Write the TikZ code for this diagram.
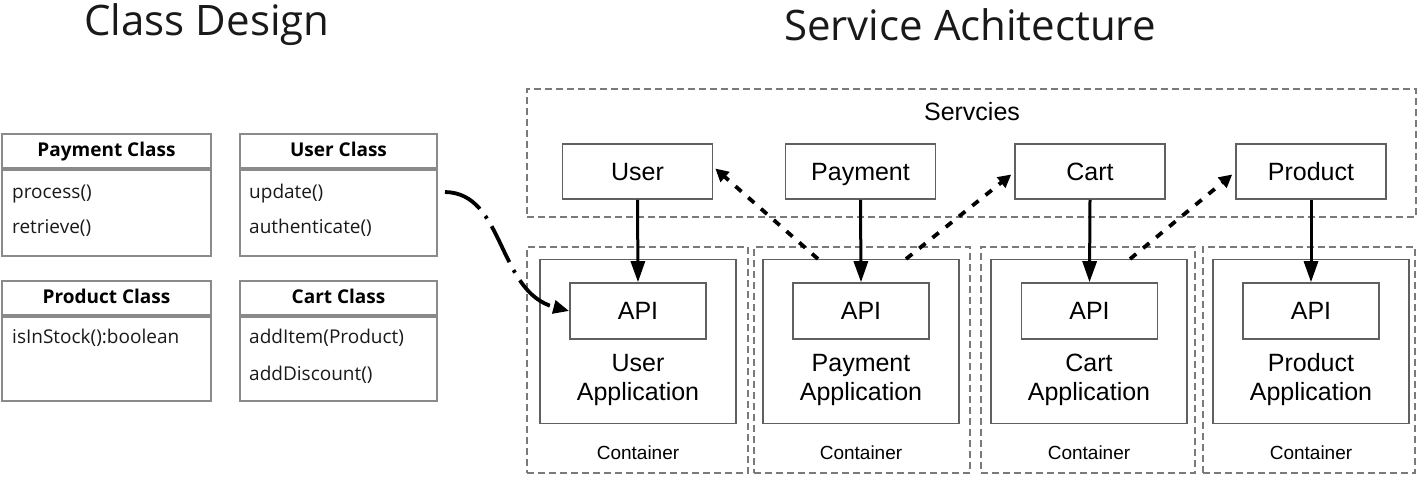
\documentclass[tikz,border=0pt]{standalone}
\usepackage{fontspec}
\setmainfont{Open Sans}
\newfontfamily\titlefont{Open Sans}
\newfontfamily\hv{Liberation Sans}
\usetikzlibrary{arrows.meta,positioning}
\definecolor{clsgray}{HTML}{8A8A8A}
\definecolor{boxgray}{HTML}{606060}
\definecolor{dashgray}{HTML}{7A7A7A}
\tikzset{
  title/.style={font=\titlefont\fontsize{42}{46}\selectfont, text=black!90, inner sep=0},
  clsframe/.style={draw=clsgray, line width=2.2pt, minimum width=209pt, inner sep=0},
  clshead/.style={clsframe, minimum height=34pt, text height=13pt, text depth=3pt, font=\bfseries\fontsize{19}{21}\selectfont},
  clsbody/.style={clsframe, minimum height=86pt},
  method/.style={anchor=base west, inner sep=0, font=\fontsize{19}{21}\selectfont, text=black!90},
  dgroup/.style={draw=dashgray, line width=1.8pt, dash pattern=on 7pt off 4pt, inner sep=0},
  svc/.style={draw=boxgray, line width=1.6pt, minimum width=150pt, minimum height=55pt, inner sep=0, text height=17pt, text depth=0pt, font=\hv\fontsize{25}{28}\selectfont},
  appbox/.style={draw=boxgray, line width=1.6pt, minimum width=196pt, minimum height=164pt, inner sep=0},
  apibox/.style={draw=boxgray, line width=1.6pt, minimum width=136pt, minimum height=56pt, inner sep=0, text height=17pt, text depth=0pt, font=\hv\fontsize{25}{28}\selectfont},
  applbl/.style={align=center, inner sep=0, font=\hv\fontsize{25}{29}\selectfont},
  contlbl/.style={inner sep=0, font=\hv\fontsize{19}{21}\selectfont},
  call/.style={line width=3pt, -{Triangle[length=21pt,width=14pt]}},
  dep/.style={line width=3.8pt, dash pattern=on 8pt off 9pt, -{Triangle[length=13pt,width=13pt]}},
  link/.style={line width=3.8pt, dash pattern=on 40pt off 9pt on 3pt off 9pt, -{Triangle[length=16pt,width=13pt]}}
}
\begin{document}
\begin{tikzpicture}[x=1pt,y=-1pt]
\useasboundingbox (0,0) rectangle (1419,477);
% titles
\node[title] (t1) at (207,25) {Class Design};
\node[title] (t2) at (970,25) {Service Achitecture};

% class boxes
\node[clshead] (payh) at (106.5,151) {Payment Class};
\node[clsbody, anchor=north] (payb) at (payh.south) {};
\node[method] (p1) at (12,198) {process()};
\node[method] (p2) at (12,233) {retrieve()};

\node[clshead, minimum width=197pt] (userh) at (338.5,151) {User Class};
\node[clsbody, minimum width=197pt, anchor=north] (userb) at (userh.south) {};
\node[method] (u1) at (249,198) {update()};
\node[method] (u2) at (249,233) {authenticate()};

\node[clshead] (prodh) at (106.5,298) {Product Class};
\node[clsbody, minimum height=84pt, anchor=north] (prodb) at (prodh.south) {};
\node[method] (r1) at (12,343) {isInStock():boolean};

\node[clshead, minimum width=197pt] (carth) at (338.5,298) {Cart Class};
\node[clsbody, minimum width=197pt, minimum height=84pt, anchor=north] (cartb) at (carth.south) {};
\node[method] (c1) at (249,343) {addItem(Product)};
\node[method] (c2) at (249,380) {addDiscount()};

% services group
\node[dgroup, minimum width=889pt, minimum height=128pt] (svcs) at (971.5,153) {};
\node[inner sep=0, font=\hv\fontsize{25}{28}\selectfont] (svclbl) at (972,112) {Servcies};
\node[svc] (suser) at (637.5,171.5) {User};
\node[svc] (spay) at (860.5,171.5) {Payment};
\node[svc] (scart) at (1090,171.5) {Cart};
\node[svc] (sprod) at (1311,171.5) {Product};

% containers
\node[dgroup, minimum width=221pt, minimum height=226pt] (cont1) at (637.5,360) {};
\node[dgroup, minimum width=216pt, minimum height=226pt] (cont2) at (862,360) {};
\node[dgroup, minimum width=214pt, minimum height=226pt] (cont3) at (1088,360) {};
\node[dgroup, minimum width=212pt, minimum height=226pt] (cont4) at (1309,360) {};

\node[appbox] (app1) at (638,341.5) {};
\node[appbox] (app2) at (861,341.5) {};
\node[appbox] (app3) at (1089,341.5) {};
\node[appbox] (app4) at (1311,341.5) {};

\node[apibox] (api1) at (638,311) {API};
\node[apibox] (api2) at (861,311) {API};
\node[apibox] (api3) at (1089.5,311) {API};
\node[apibox] (api4) at (1311,311) {API};

\node[applbl] (l1) at (638,380) {User\\Application};
\node[applbl] (l2) at (861,380) {Payment\\Application};
\node[applbl] (l3) at (1089,380) {Cart\\Application};
\node[applbl] (l4) at (1311,380) {Product\\Application};

\node[contlbl] (k1) at (638,453) {Container};
\node[contlbl] (k2) at (861,453) {Container};
\node[contlbl] (k3) at (1089,453) {Container};
\node[contlbl] (k4) at (1311,453) {Container};

% solid calls
\draw[call] (suser.south) -- (api1.north);
\draw[call] (spay.south) -- (api2.north);
\draw[call] (scart.south) -- (api3.north);
\draw[call] (sprod.south) -- (api4.north);

% dotted dependencies
\coordinate (d1) at (818,259);
\coordinate (d2) at (906,259);
\coordinate (d3) at (1130,259);
\draw[dep] (d1) -- ([xshift=2pt,yshift=3pt]suser.east);
\draw[dep] (d2) -- ([xshift=-3pt,yshift=-3pt]scart.west);
\draw[dep] (d3) -- ([xshift=-3pt,yshift=-3pt]sprod.west);

% class to service link
\coordinate (cs) at (445,192);
\draw[link] (cs) .. controls (505,193) and (497,292) .. (api1.west);
\end{tikzpicture}
\end{document}
